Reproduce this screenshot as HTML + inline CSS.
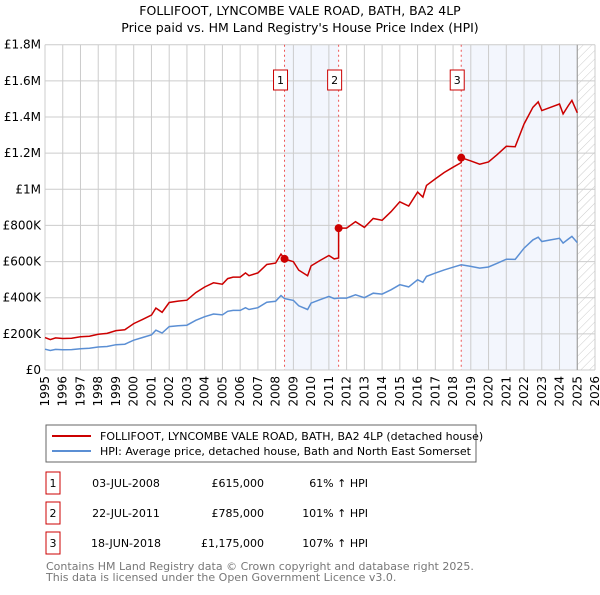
<!DOCTYPE html>
<html><head><meta charset="utf-8"><style>
body{margin:0;background:#fff;font-family:"Liberation Sans","DejaVu Sans",sans-serif;}
svg text{font-family:"DejaVu Sans","Liberation Sans",sans-serif;}
</style></head><body>
<svg id="c" width="600" height="590" viewBox="0 0 600 590" xmlns="http://www.w3.org/2000/svg">
<text x="300" y="15" text-anchor="middle" font-size="12.5" fill="#000">FOLLIFOOT, LYNCOMBE VALE ROAD, BATH, BA2 4LP</text>
<text x="300" y="32" text-anchor="middle" font-size="12.5" fill="#000">Price paid vs. HM Land Registry's House Price Index (HPI)</text>
<g id="plot"></g>
<g>
<rect x="46" y="425" width="430" height="37" fill="#fff" stroke="#666"/>
<line x1="52" y1="436" x2="91" y2="436" stroke="#cc0000" stroke-width="2"/>
<text x="100" y="440" font-size="11">FOLLIFOOT, LYNCOMBE VALE ROAD, BATH, BA2 4LP (detached house)</text>
<line x1="52" y1="451" x2="91" y2="451" stroke="#5b8fd4" stroke-width="2"/>
<text x="100" y="455" font-size="11">HPI: Average price, detached house, Bath and North East Somerset</text>
</g>
<g id="table" font-size="11"></g>
<text x="46" y="570" font-size="11" fill="#777">Contains HM Land Registry data © Crown copyright and database right 2025.</text>
<text x="46" y="581" font-size="11" fill="#777">This data is licensed under the Open Government Licence v3.0.</text>
</svg>
<script>
const hpiYears=[1995,1995.3,1995.6,1996,1996.5,1997,1997.5,1998,1998.5,1999,1999.5,2000,2000.5,2001,2001.25,2001.6,2002,2002.5,2003,2003.5,2004,2004.5,2005,2005.3,2005.6,2006,2006.3,2006.5,2007,2007.5,2008,2008.3,2008.5,2009,2009.3,2009.8,2010,2010.5,2011,2011.3,2011.55,2012,2012.5,2013,2013.5,2014,2014.5,2015,2015.5,2016,2016.3,2016.5,2017,2017.5,2018,2018.46,2019,2019.5,2020,2020.5,2021,2021.5,2022,2022.5,2022.8,2023,2023.5,2024,2024.2,2024.5,2024.7,2025];
const hpiValues=[115,108,114,112,113,118,120,127,130,140,143,165,180,195,220,205,240,245,248,275,295,310,305,325,330,330,345,335,345,375,380,412,395,385,355,335,370,389,407,395,398,398,416,400,425,420,444,472,460,499,485,518,536,554,569,582,573,564,570,591,613,612,674,720,735,711,720,729,702,725,739,705];
const saleLabels=["1","2","3"];
const saleYears=[2008.5,2011.55,2018.46];
const salePrices=[615,785,1175];
const saleDates=["03-JUL-2008","22-JUL-2011","18-JUN-2018"];
const salePriceText=["£615,000","£785,000","£1,175,000"];
const salePctText=["61% ↑ HPI","101% ↑ HPI","107% ↑ HPI"];
const yTickValues=[0,200,400,600,800,1000,1200,1400,1600,1800];
const yTickLabels=["£0","£200K","£400K","£600K","£800K","£1M","£1.2M","£1.4M","£1.6M","£1.8M"];
const xTickYears=[1995,1996,1997,1998,1999,2000,2001,2002,2003,2004,2005,2006,2007,2008,2009,2010,2011,2012,2013,2014,2015,2016,2017,2018,2019,2020,2021,2022,2023,2024,2025,2026];

const L=45,R=595,T=44.7,B=370;
const X=y=>L+(y-1995)*(R-L)/31;
const Y=v=>B-v*(B-T)/1800;
const NS="http://www.w3.org/2000/svg";
const g=document.getElementById('plot');
function mk(tag,attrs,parent){const e=document.createElementNS(NS,tag);for(const k in attrs)e.setAttribute(k,attrs[k]);(parent||g).appendChild(e);return e;}
function interp(yr){for(let i=0;i<hpiYears.length-1;i++){if(yr<=hpiYears[i+1]){const t=(yr-hpiYears[i])/(hpiYears[i+1]-hpiYears[i]);return hpiValues[i]+t*(hpiValues[i+1]-hpiValues[i]);}}return hpiValues[hpiValues.length-1];}
let s1=mk('rect',{x:X(saleYears[0]),y:T,width:X(saleYears[1])-X(saleYears[0]),height:B-T,fill:'#f3f6fd'});


let s2=mk('rect',{x:X(saleYears[2]),y:T,width:X(2025)-X(saleYears[2]),height:B-T,fill:'#f3f6fd'});


const defs=mk('defs',{});
const pat=mk('pattern',{id:'h',width:6,height:6,patternUnits:'userSpaceOnUse',patternTransform:'rotate(45)'},defs);
mk('line',{x1:0,y1:0,x2:0,y2:6,stroke:'#ccc','stroke-width':1},pat);
let hz=mk('rect',{x:X(2025),y:T,width:R-X(2025),height:B-T,fill:'url(#h)'});


yTickValues.forEach((v,i)=>{
 let l=mk('line',{x1:L,x2:R,y1:Y(v),y2:Y(v),stroke:'#ccc'});
 
 
 let t=mk('text',{x:L-4,y:Y(v)+4,'text-anchor':'end','font-size':12});
 t.textContent=yTickLabels[i];
 
 
});
xTickYears.forEach(yr=>{
 let l=mk('line',{x1:X(yr),x2:X(yr),y1:T,y2:B,stroke:'#ccc'});
 
 
 let t=mk('text',{x:0,y:0,'text-anchor':'end','font-size':12,transform:`translate(${X(yr)+4},${B+6}) rotate(-90)`});
 t.textContent=yr;
 
 
});
let edge=mk('line',{x1:X(2025),x2:X(2025),y1:T,y2:B,stroke:'#999'});


saleYears.forEach((yr,i)=>{
 let l=mk('line',{x1:X(yr),x2:X(yr),y1:T,y2:B,stroke:'#e55','stroke-dasharray':'2,3'});
 
 
 let r=mk('rect',{x:X(yr)-11,y:70,width:14,height:20,fill:'#fff',stroke:'#c00'});
 
 
 let t=mk('text',{x:X(yr)-4,y:84,'text-anchor':'middle','font-size':11});
 t.textContent=saleLabels[i];
 
 
});
const ratios=saleYears.map((yr,i)=>salePrices[i]/interp(yr));
function ratioAt(yr){if(yr<saleYears[1])return ratios[0];if(yr<saleYears[2])return ratios[1];return ratios[2];}
let hp='',rp='';
const pts=[];
hpiYears.forEach(y=>pts.push(y));
saleYears.forEach(y=>{pts.push(y-0.001);});
pts.sort((a,b)=>a-b);
pts.forEach((yr,i)=>{const v=interp(yr);hp+=(i?'L':'M')+X(yr).toFixed(1)+','+Y(v).toFixed(1);rp+=(i?'L':'M')+X(yr).toFixed(1)+','+Y(v*ratioAt(yr)).toFixed(1);});
let hl=mk('path',{d:hp,fill:'none',stroke:'#5b8fd4','stroke-width':1.5});


let rl=mk('path',{d:rp,fill:'none',stroke:'#cc0000','stroke-width':1.5});


saleYears.forEach((yr,i)=>{
 let c=mk('circle',{cx:X(yr),cy:Y(salePrices[i]),r:4,fill:'#cc0000'});
 
 
});
const tb=document.getElementById('table');
saleYears.forEach((yr,i)=>{
 const y=483+i*30;
 let r=mk('rect',{x:46,y:y-11,width:14,height:22,fill:'#fff',stroke:'#c00'},tb);
 
 
 const cells=[[saleLabels[i],53,'middle'],[saleDates[i],126,'middle'],[salePriceText[i],264,'end'],[salePctText[i],368,'end']];
 cells.forEach(c=>{let t=mk('text',{x:c[1],y:y+4,'text-anchor':c[2]},tb);t.textContent=c[0];
  
  });
});
</script>
</body></html>
